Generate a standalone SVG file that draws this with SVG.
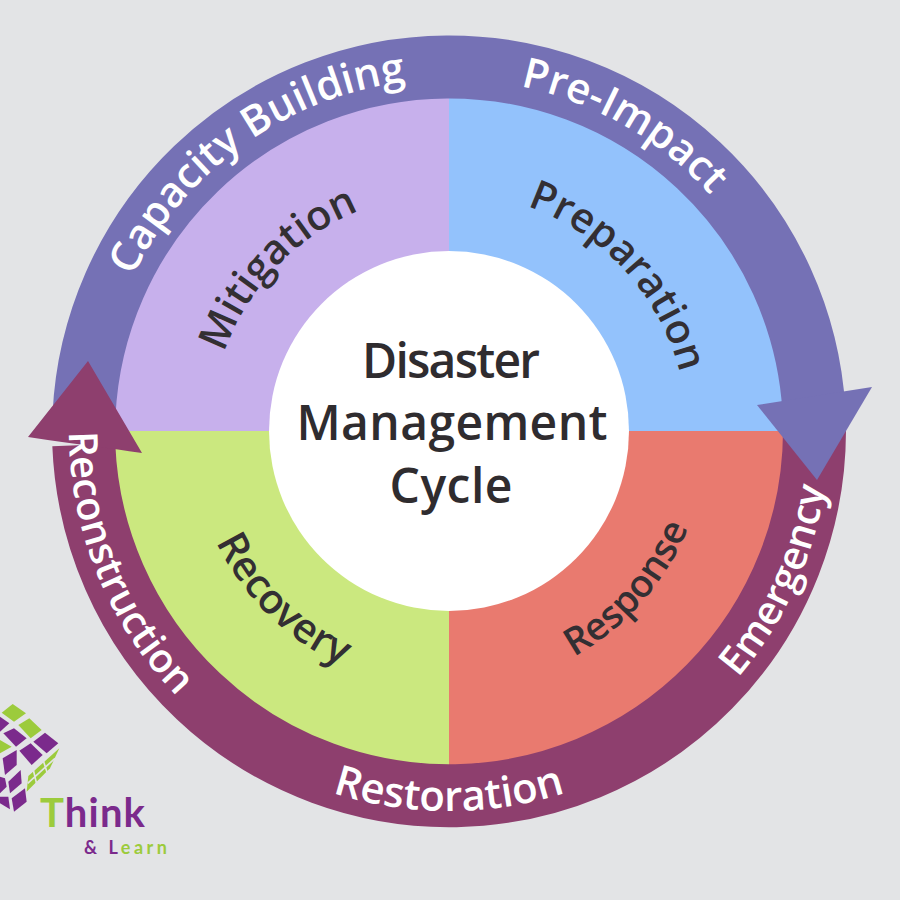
<svg xmlns="http://www.w3.org/2000/svg" width="900" height="900" viewBox="0 0 900 900">
<style>
text{font-family:"Open Sans","DejaVu Sans",sans-serif;font-weight:600}
.ring{fill:none;stroke-width:63}
.rl{fill:#fff;font-size:42px;text-anchor:middle}
.ql{fill:#332f33;font-size:41px;text-anchor:middle}
.cl{fill:#2f2c2f;font-size:48px;text-anchor:middle}
.logo{font-family:Lato,"Open Sans",sans-serif;font-weight:700}
.g{fill:#9ccb3c}.p{fill:#7b2a8c}
</style>
<defs>
<path id="t352" d="M97 431A352 352 0 0 1 801 431"/>
<path id="t238" d="M211 431A238 238 0 0 1 687 431"/>
<path id="b380" d="M69 431A380 380 0 0 0 829 431"/>
<path id="b258" d="M191 431A258 258 0 0 0 707 431"/>
</defs>
<rect width="900" height="900" fill="#e3e4e6"/>
<g id="mitigation"><path d="M449 431V95A336 336 0 0 0 113 431Z" fill="#c7b0ec"/>
<text class="ql" transform="rotate(-46.5 449 431)"><textPath href="#t238" startOffset="50%">Mitigation</textPath></text></g>
<g id="preparation"><path d="M449 431V95A336 336 0 0 1 785 431Z" fill="#93c2fc"/>
<text class="ql" transform="rotate(47.5 449 431)"><textPath href="#t238" startOffset="50%">Preparation</textPath></text></g>
<g id="response"><path d="M449 431H785A336 336 0 0 1 449 767Z" fill="#e97a6f"/>
<text class="ql" style="font-size:38px" transform="rotate(-48.5 449 431)"><textPath href="#b258" startOffset="50%">Response</textPath></text></g>
<g id="recovery"><path d="M449 431H113A336 336 0 0 0 449 767Z" fill="#cbe87f"/>
<text class="ql" transform="rotate(44.5 449 431)"><textPath href="#b258" startOffset="50%">Recovery</textPath></text></g>
<g id="center"><circle cx="449" cy="431" r="180" fill="#fff"/>
<text class="cl" x="451" y="378" textLength="178">Disaster</text>
<text class="cl" x="452" y="440" textLength="311">Management</text>
<text class="cl" x="451" y="503" textLength="123">Cycle</text></g>
<g id="connectors">
<path class="ring" stroke="#7571b5" d="M84 415A365.5 365.5 0 0 1 813.9 410"/>
<path class="ring" stroke="#8e3f6e" d="M814.5 431A365.5 365.5 0 0 1 83.8 445"/>
<path d="M28 437L88 361L142 453Q115 449 100 447Q60 442 28 437Z" fill="#8e3f6e"/>
<path d="M757 405L872 387L817 480Z" fill="#7571b5"/>
</g>
<g id="ring-labels">
<text class="rl" transform="rotate(-35.5 449 431)"><textPath href="#t352" startOffset="50%">Capacity Building</textPath></text>
<text class="rl" transform="rotate(29.8 449 431)"><textPath href="#t352" startOffset="50%">Pre-Impact</textPath></text>
<text class="rl" style="font-size:40px" transform="rotate(-65.5 449 431)"><textPath href="#b380" startOffset="50%">Emergency</textPath></text>
<text class="rl" transform="rotate(0 449 431)"><textPath href="#b380" startOffset="50%">Restoration</textPath></text>
<text class="rl" style="font-size:40px" transform="rotate(67.8 449 431)"><textPath href="#b380" startOffset="50%">Reconstruction</textPath></text>
</g>
<g id="logo">
<g transform="translate(0 690) scale(.3333)">
<path class="g" d="M5 68L38 42L78 70L42 95Z"/>
<path class="g" d="M55 105L88 85L125 120L92 145Z"/>
<path class="g" d="M0 150L35 170L0 190Z"/>
<path class="p" d="M0 80L28 100L0 125Z"/>
<path class="p" d="M10 130L42 115L80 145L48 170Z"/>
<path class="p" d="M100 155L135 128L175 160L140 190Z"/>
<path class="p" d="M58 182L92 160L128 195L95 225Z"/>
<path class="p" d="M8 205L50 180L50 225L15 255Z"/>
<path class="p" d="M25 275L62 240L65 280L30 310Z"/>
<path class="p" d="M35 325L75 295L80 335L42 365Z"/>
<path class="p" d="M0 260L15 265L20 290L0 310Z"/>
<path class="p" d="M0 320L25 320L30 358L0 340Z"/>
<path class="g" d="M85 258L178 175L150 235L80 305Z"/>
<path d="M100 240L112 290M130 212L142 250M83 280L165 205" fill="none" stroke="#e3e4e6" stroke-width="5"/>
</g>
<text class="logo" x="40" y="827" font-size="40" textLength="105"><tspan class="g">T</tspan><tspan class="p">hink</tspan></text>
<text class="logo" x="84" y="854" font-size="18" textLength="83"><tspan class="p">&amp; L</tspan><tspan class="g">earn</tspan></text>
</g>
</svg>
